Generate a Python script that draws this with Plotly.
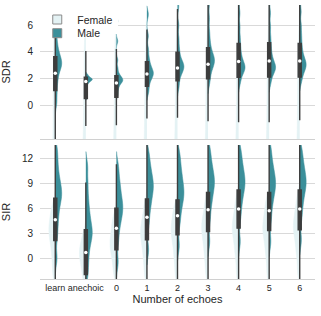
import plotly.graph_objects as go
from plotly.subplots import make_subplots

categories = ["learn", "anechoic", "0", "1", "2", "3", "4", "5", "6"]

# ---- SDR (top panel) : combined box statistics ----
sdr_q1 = [1.13, 0.52, 0.62, 1.43, 1.85, 2.00, 2.10, 2.12, 2.12]
sdr_med = [2.42, 1.80, 1.68, 2.35, 2.81, 3.09, 3.28, 3.33, 3.33]
sdr_q3 = [3.65, 2.12, 2.22, 3.28, 3.98, 4.32, 4.64, 4.69, 4.64]
sdr_lo = [-3.0, -1.53, -1.46, -0.96, -0.91, -1.16, -1.24, -1.24, -1.09]
sdr_hi = [7.4, 4.07, 4.22, 5.68, 7.2, 7.8, 8.4, 8.4, 8.4]

# ---- SDR sample values (read approx. from the violin shapes) ----
sdr_male = [
    [0.2, 1.0, 1.7, 2.2, 2.6, 2.9, 3.0, 3.2, 3.4, 3.6, 3.9, 4.3, 4.9, 5.8, 7.3],
    [0.6, 1.3, 1.6, 1.75, 1.85, 1.9, 1.95, 2.0, 2.05, 2.15, 2.3],
    [0.8, 1.2, 1.5, 1.7, 1.8, 1.9, 1.95, 2.05, 2.2, 2.4, 2.8, 3.4, 4.8, 6.3],
    [1.0, 1.5, 1.9, 2.1, 2.3, 2.4, 2.5, 2.7, 2.9, 3.2, 3.6, 4.2, 5.2, 6.8],
    [1.4, 2.0, 2.4, 2.6, 2.8, 2.9, 3.0, 3.2, 3.4, 3.8, 4.3, 5.0, 6.0, 7.4],
    [1.7, 2.3, 2.7, 3.0, 3.2, 3.3, 3.5, 3.7, 3.9, 4.3, 4.8, 5.5, 6.5, 7.6],
    [1.7, 2.2, 2.5, 2.7, 2.8, 2.9, 3.1, 3.3, 3.6, 4.0, 4.5, 5.1, 5.9, 6.9, 8.0],
    [1.7, 2.2, 2.5, 2.7, 2.8, 2.9, 3.1, 3.3, 3.6, 4.0, 4.5, 5.1, 5.9, 6.9, 8.0],
    [1.8, 2.3, 2.6, 2.8, 3.0, 3.1, 3.3, 3.5, 3.8, 4.2, 4.7, 5.3, 6.0, 7.0, 8.0],
]
sdr_male_bw = [0.4, 0.1, 0.2, 0.3, 0.35, 0.4, 0.35, 0.35, 0.35]

sdr_female = [
    [-16, -13, -11, -10, -9, -8.5, -8, -7.5, -7, -6, -5, -3.5, -1.5, 0.5, 2.5, 4.5],
    [-16, -13, -11, -10, -9, -8.5, -8, -7.5, -7, -6, -5, -3.5, -2, 0, 2, 4.5],
    [-16, -13, -11, -10, -9, -8.5, -8, -7.5, -7, -6, -5, -3.5, -2, 0, 2, 4.5],
    [-16, -13, -11, -10, -9, -8.5, -8, -7.5, -7, -6, -5, -3.5, -2, 0, 2, 4.5],
    [-16, -13, -11, -10, -9, -8.5, -8, -7.5, -7, -6, -5, -3.5, -2, 0, 2, 4.5],
    [-16, -13, -11, -10, -9, -8.5, -8, -7.5, -7, -6, -5, -3.5, -2, 0, 2, 4.5],
    [-16, -13, -11, -10, -9, -8.5, -8, -7.5, -7, -6, -5, -3.5, -2, 0, 2, 4.5],
    [-16, -13, -11, -10, -9, -8.5, -8, -7.5, -7, -6, -5, -3.5, -2, 0, 2, 4.5],
    [-16, -13, -11, -10, -9, -8.5, -8, -7.5, -7, -6, -5, -3.5, -2, 0, 2, 4.5],
]
sdr_female_bw = [1.6] * 9

# ---- SIR (bottom panel) : combined box statistics ----
sir_q1 = [2.11, -2.0, 1.0, 2.2, 2.8, 3.2, 3.6, 3.3, 3.4]
sir_med = [4.6, 0.67, 3.6, 4.9, 5.1, 5.8, 5.9, 5.7, 5.9]
sir_q3 = [7.2, 3.4, 6.0, 7.1, 7.0, 7.9, 8.2, 7.9, 8.2]
sir_lo = [-3.0, -2.6, -3.0, -3.0, -3.0, -3.0, -3.0, -3.0, -3.0]
sir_hi = [14.0, 9.08, 11.28, 14.0, 14.0, 14.0, 14.0, 14.0, 14.0]

sir_male = [
    [0.0, 2.5, 4.0, 5.2, 6.2, 7.0, 7.5, 8.0, 8.6, 9.3, 10.2, 11.5, 13.0],
    [-2.0, -0.5, 0.8, 1.8, 2.5, 3.0, 3.5, 4.2, 5.0, 6.0, 7.3, 9.0, 11.0],
    [-0.5, 2.0, 3.5, 4.5, 5.2, 5.8, 6.3, 6.9, 7.6, 8.5, 9.5, 11.0],
    [1.0, 4.0, 5.5, 6.5, 7.3, 8.0, 8.5, 9.0, 9.6, 10.3, 11.2, 12.5],
    [1.5, 4.0, 5.3, 6.3, 7.0, 7.6, 8.1, 8.7, 9.4, 10.2, 11.2, 12.5],
    [2.0, 4.5, 6.0, 7.0, 7.8, 8.5, 9.0, 9.5, 10.1, 10.8, 11.7, 13.0],
    [2.0, 4.8, 6.2, 7.2, 8.0, 8.6, 9.1, 9.6, 10.2, 10.9, 11.8, 13.0],
    [2.0, 4.5, 6.0, 7.0, 7.8, 8.4, 8.9, 9.4, 10.0, 10.7, 11.6, 13.0],
    [2.2, 4.8, 6.2, 7.2, 8.0, 8.6, 9.1, 9.6, 10.2, 10.9, 11.8, 13.0],
]
sir_male_bw = [0.9] * 9

sir_female = [
    [-2.0, -0.5, 0.8, 1.8, 2.6, 3.2, 3.8, 4.5, 5.3, 6.3],
    [-2.8, -1.8, -1.0, -0.4, 0.2, 0.6, 1.0, 1.5, 2.2, 3.0],
    [-2.0, -0.8, 0.2, 0.9, 1.5, 2.0, 2.6, 3.3, 4.2, 5.0],
    [-2.0, -0.5, 0.7, 1.6, 2.4, 3.0, 3.6, 4.3, 5.2, 6.5],
    [-2.0, -0.4, 0.8, 1.8, 2.6, 3.2, 3.8, 4.5, 5.3, 6.3],
    [-1.8, -0.2, 1.0, 2.0, 2.8, 3.5, 4.1, 4.8, 5.7, 7.0],
    [-1.8, 0.0, 1.2, 2.2, 3.0, 3.6, 4.2, 5.0, 5.9, 7.2],
    [-1.8, 0.0, 1.2, 2.2, 3.0, 3.6, 4.2, 5.0, 5.9, 7.0],
    [-1.6, 0.2, 1.4, 2.4, 3.2, 3.8, 4.4, 5.2, 6.1, 7.4],
]
sir_female_bw = [0.9] * 9

sdr_ticks = [0, 2, 4, 6]
sir_ticks = [0, 3, 6, 9, 12]

MALE = "#3b8f9a"
FEMALE = "#e4f2f4"
DARK = "#3d3d3d"
GRID = "#d9d9d9"
FONT = "Liberation Sans, Arial, sans-serif"

fig = make_subplots(rows=2, cols=1)
positions = list(range(len(categories)))

panels = [
    (1, sdr_female, sdr_female_bw, sdr_male, sdr_male_bw, sdr_q1, sdr_med, sdr_q3, sdr_lo, sdr_hi),
    (2, sir_female, sir_female_bw, sir_male, sir_male_bw, sir_q1, sir_med, sir_q3, sir_lo, sir_hi),
]

for row, fem, fem_bw, mal, mal_bw, q1, med, q3, lo, hi in panels:
    for side, groups, bws, color, tag in [("negative", fem, fem_bw, FEMALE, "F"),
                                          ("positive", mal, mal_bw, MALE, "M")]:
        for i, vals in enumerate(groups):
            fig.add_trace(go.Violin(
                x=[positions[i]] * len(vals), y=vals, side=side,
                bandwidth=bws[i], spanmode="soft",
                scalemode="width", scalegroup=f"{row}{tag}{i}",
                width=0.42, fillcolor=color, opacity=1,
                line=dict(color=color, width=0.5),
                points=False, box_visible=False, meanline_visible=False,
                showlegend=False, hoverinfo="skip"), row=row, col=1)
    fig.add_trace(go.Box(
        x=positions, q1=q1, median=med, q3=q3, lowerfence=lo, upperfence=hi,
        width=0.1, fillcolor=DARK, line=dict(color=DARK, width=1.4),
        whiskerwidth=0, boxpoints=False, showlegend=False, hoverinfo="skip"),
        row=row, col=1)
    fig.add_trace(go.Scatter(
        x=positions, y=med, mode="markers",
        marker=dict(color="white", size=3.5), showlegend=False, hoverinfo="skip"),
        row=row, col=1)

# legend entries (one legend box per entry to match the tight spacing)
fig.add_trace(go.Scatter(x=[None], y=[None], mode="markers", name="Female", legend="legend",
                         marker=dict(symbol="square", size=9, color=FEMALE,
                                     line=dict(color="#8a8a8a", width=1))), row=1, col=1)
fig.add_trace(go.Scatter(x=[None], y=[None], mode="markers", name="Male", legend="legend2",
                         marker=dict(symbol="square", size=9, color=MALE,
                                     line=dict(color="#8a8a8a", width=1))), row=1, col=1)

axis_common = dict(range=[-0.5, 8.5], tickvals=positions, ticktext=categories,
                   showgrid=False, zeroline=False, showline=True, tickangle=0,
                   linecolor="#d0d0d0", linewidth=1.3, ticks="", automargin=False,
                   tickfont=dict(size=9))
yaxis_common = dict(showgrid=True, gridcolor=GRID, gridwidth=1, zeroline=False,
                    showline=False, ticks="outside", ticklen=4, tickcolor="white",
                    automargin=False, tickfont=dict(size=10))
legend_common = dict(x=-0.01, xanchor="left", yanchor="top",
                     borderwidth=0, font=dict(size=10.5))
fig.update_layout(
    width=321, height=316,
    margin=dict(l=40, r=6, t=5, b=37),
    paper_bgcolor="white", plot_bgcolor="white",
    violinmode="overlay", boxmode="overlay",
    font=dict(family=FONT, size=10, color="#262626"),
    legend=dict(y=1.0, bgcolor="white", **legend_common),
    legend2=dict(y=0.95, bgcolor="rgba(0,0,0,0)", **legend_common),
    xaxis=dict(domain=[0, 1], showticklabels=False, **axis_common),
    xaxis2=dict(domain=[0, 1], showticklabels=True,
                title=dict(text="Number of echoes", font=dict(size=11), standoff=2),
                **axis_common),
    yaxis=dict(domain=[0.511, 1], range=[-2.49, 7.5], tickvals=sdr_ticks,
               title=dict(text="SDR", font=dict(size=11), standoff=17),
               **yaxis_common),
    yaxis2=dict(domain=[0, 0.489], range=[-2.52, 13.6], tickvals=sir_ticks,
                title=dict(text="SIR", font=dict(size=11), standoff=12),
                **yaxis_common),
)

fig.write_html("out.html", config={"displayModeBar": False},
               post_script="document.body.style.margin='0px';")
